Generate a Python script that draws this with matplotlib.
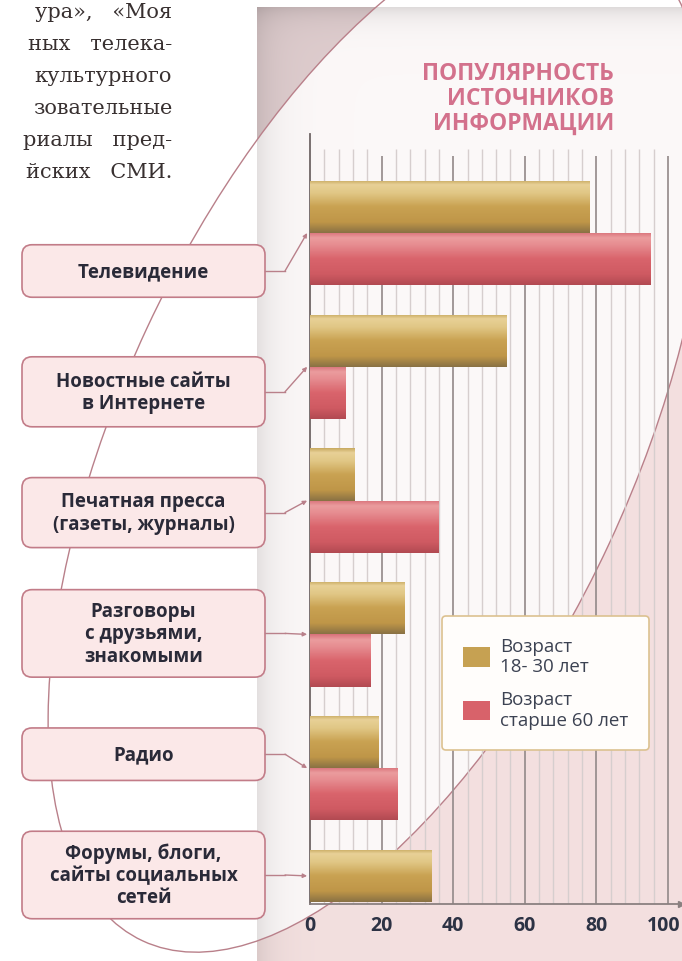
import numpy as np
import matplotlib.pyplot as plt
import matplotlib.transforms as mtransforms
from matplotlib.patches import FancyBboxPatch, Ellipse, ConnectionPatch
from matplotlib.colors import LinearSegmentedColormap

plt.rcParams['font.family'] = ['Open Sans', 'DejaVu Sans']

# data
sources = ["Телевидение", "Новостные сайты\nв Интернете",
           "Печатная пресса\n(газеты, журналы)",
           "Разговоры\nс друзьями,\nзнакомыми", "Радио",
           "Форумы, блоги,\nсайты социальных\nсетей"]
young = [78, 55, 12.5, 26.5, 19, 34]
old = [95, 10, 36, 17, 24.5, 0]
ticks = [0, 20, 40, 60, 80, 100]
series = ["Возраст\n18- 30 лет", "Возраст\nстарше 60 лет"]
title = ["ПОПУЛЯРНОСТЬ", "ИСТОЧНИКОВ", "ИНФОРМАЦИИ"]
para = ["ура»,   «Моя", "ных   телека-", "культурного",
        "зовательные", "риалы   пред-", "йских   СМИ."]

W, H = 682, 962
fig = plt.figure(figsize=(W / 100, H / 100), dpi=100)
fig.patch.set_facecolor('white')

# background layer in pixel units
bg = fig.add_axes([0, 0, 1, 1])
bg.set_xlim(0, W)
bg.set_ylim(H, 0)
bg.axis('off')

cx, cy, ea, eb, eang = 378, 437, 557, 255, -65
yy, xx = np.mgrid[0:H, 0:W] + 0.5
t = np.deg2rad(eang)
u = (xx - cx) * np.cos(t) + (yy - cy) * np.sin(t)
v = -(xx - cx) * np.sin(t) + (yy - cy) * np.cos(t)
inside = (u / ea) ** 2 + (v / eb) ** 2 <= 1
img = np.ones((H, W, 4))
img[..., :3] = np.where(inside[..., None], [0.988, 0.973, 0.973],
                        np.where((v < 0)[..., None], [0.87, 0.80, 0.805],
                                 [0.953, 0.878, 0.875]))
shade = (1 - 0.10 * np.exp(-(xx - 257) / 18)) * (1 - 0.12 * np.exp(-(yy - 8) / 12))
img[..., :3] *= np.clip(shade, 0, 1)[..., None]
img[..., 3] = ((xx >= 257) & (yy >= 8)).astype(float)
bg.imshow(img, extent=(0, W, H, 0), interpolation='bilinear', zorder=0)
bg.add_patch(Ellipse((cx, cy), 2 * ea, 2 * eb, angle=eang, fill=False,
                     ec='#b9808a', lw=1.0, zorder=1))

# paragraph fragment at top left
for i, line in enumerate(para):
    bg.text(172, 18 + 32 * i, line, ha='right', va='baseline', fontsize=15,
            family='DejaVu Serif', color='#383030', zorder=2)

# title
for i, line in enumerate(title):
    bg.text(614, 80 + 25 * i, line, ha='right', va='baseline', fontsize=16.5,
            fontweight='bold', color='#d3718c', zorder=2)

# chart axes
step, j0 = 133.8, 234
ybot, ytop = (905 - j0) / step, (135 - j0) / step
xmax = 106
ax = fig.add_axes([310 / W, (H - 905) / H, xmax * 3.58 / W, 770 / H])
ax.patch.set_alpha(0)
ax.set_zorder(2)

minor = [m for m in range(4, 101, 4) if m % 20]
ax.vlines(minor, (150 - j0) / step, ybot, color='#d6cece', lw=1.0, zorder=1)
ax.vlines(ticks[1:], (157 - j0) / step, ybot, color='#9a9090', lw=1.3, zorder=1)

y = np.arange(len(sources))
h = 0.39
gold, red = '#c6a152', '#d8626a'
b1 = ax.barh(y - h / 2, young, height=h, color=gold, zorder=3)
b2 = ax.barh(y + h / 2, old, height=h, color=red, zorder=3)

gold_cm = LinearSegmentedColormap.from_list('g', [
    (0, '#c9ab62'), (0.08, '#e8d197'), (0.25, '#e0c684'), (0.5, '#c9a252'),
    (0.8, '#bf9648'), (1, '#8a7244')])
red_cm = LinearSegmentedColormap.from_list('r', [
    (0, '#d9727a'), (0.1, '#eb9c9e'), (0.25, '#e68b8f'), (0.5, '#d9646c'),
    (0.8, '#cf5a62'), (1, '#b24a52')])
grad = np.linspace(0, 1, 64)[:, None]
for bars, cm in ((b1, gold_cm), (b2, red_cm)):
    for p in bars.patches:
        if p.get_width() <= 0:
            continue
        x0, y0 = p.get_x(), p.get_y()
        x1, y1 = x0 + p.get_width(), y0 + p.get_height()
        im = ax.imshow(grad, cmap=cm, aspect='auto', extent=(x0, x1, y1, y0),
                       interpolation='bilinear', zorder=4)
        im.set_clip_path(p)

ax.set_xlim(0, xmax)
ax.set_ylim(ybot, ytop)
ax.set_yticks([])
ax.set_xticks(ticks)
ax.set_xticklabels([str(k) for k in ticks], fontsize=14, fontweight='bold',
                   color='#2c3244')
ax.tick_params(axis='x', length=0, pad=8)
last = ax.get_xticklabels()[-1]
last.set_transform(last.get_transform() +
                   mtransforms.ScaledTranslation(-4 / 100, 0, fig.dpi_scale_trans))
for s in ('top', 'right'):
    ax.spines[s].set_visible(False)
ax.spines['left'].set_color('#6f6565')
ax.spines['left'].set_linewidth(1.3)
ax.spines['bottom'].set_color('#8a8080')
ax.spines['bottom'].set_linewidth(1.3)
ax.plot([103.6], [ybot], marker='>', ms=5, color='#8a8080', clip_on=False, zorder=5)

leg = ax.legend([b1, b2], series, loc='upper left',
                bbox_to_anchor=(442 / W, 1 - 617 / H), bbox_transform=fig.transFigure,
                prop={'family': 'Open Sans', 'size': 13.5}, labelcolor='#3c4252',
                handlelength=1.45, handleheight=1.25, handletextpad=0.55,
                borderpad=1.1, borderaxespad=0, labelspacing=0.8,
                fancybox=True, framealpha=1)
fr = leg.get_frame()
fr.set_facecolor('#fffdfb')
fr.set_edgecolor('#dcc190')
fr.set_linewidth(1.2)
leg.set_zorder(6)

# label boxes with connectors
for i, name in enumerate(sources):
    n = name.count('\n') + 1
    bh = 35 + 17.5 * n
    cy_i = 272 + 120.8 * i
    bg.add_patch(FancyBboxPatch((22, cy_i - bh / 2), 243, bh,
                                boxstyle='round,pad=0,rounding_size=10',
                                fc='#fbe8e8', ec='#c27c88', lw=1.2, zorder=3))
    bg.text(143.5, cy_i, name, ha='center', va='center', fontsize=13.5,
            fontweight='bold', color='#2a2a38', linespacing=1.15, zorder=4)
    bg.plot([265, 285], [cy_i, cy_i], color='#b9808a', lw=1.0, zorder=3)
    ty = i if old[i] > 0 else i - h / 2
    con = ConnectionPatch(xyA=(285, cy_i), coordsA=bg.transData,
                          xyB=(-0.8, ty), coordsB=ax.transData,
                          arrowstyle='-|>', mutation_scale=6,
                          color='#b9808a', lw=1.0, zorder=3)
    fig.add_artist(con)

fig.savefig('out.png', dpi=100)
